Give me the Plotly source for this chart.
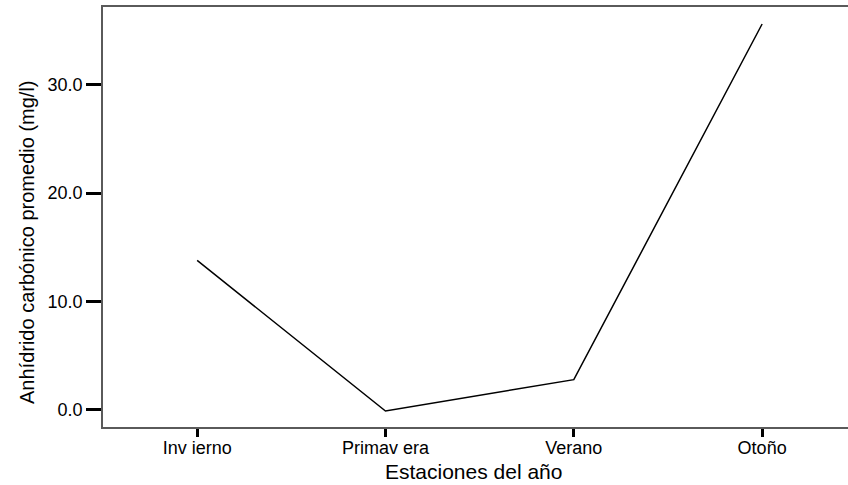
import plotly.graph_objects as go

# Estaciones y promedio de anhídrido carbónico (mg/l)
estaciones = ["Inv ierno", "Primav era", "Verano", "Otoño"]
co2_promedio = [13.8, -0.1, 2.8, 35.6]
y_ticks = [0, 10, 20, 30]

FONT = "Liberation Sans, Arial, sans-serif"
pos = list(range(len(estaciones)))

fig = go.Figure(
    go.Scatter(
        x=pos,
        y=co2_promedio,
        mode="lines",
        line=dict(color="black", width=1.5),
        hoverinfo="skip",
    )
)

fig.update_layout(
    width=848,
    height=485,
    margin=dict(l=103, r=0, t=7, b=58),
    paper_bgcolor="white",
    plot_bgcolor="white",
    showlegend=False,
    font=dict(family=FONT, size=18, color="black"),
)

fig.update_xaxes(
    range=[-0.5, 3.456],
    tickvals=pos,
    ticktext=estaciones,
    showgrid=False,
    zeroline=False,
    showline=True,
    mirror=True,
    linecolor="#5a5a5a",
    linewidth=1.5,
    ticks="outside",
    ticklen=8,
    tickwidth=3,
    tickcolor="black",
    ticklabelstandoff=-4,
    tickfont=dict(family=FONT, size=18, color="black"),
)

fig.update_yaxes(
    range=[-1.57, 37.17],
    tickvals=y_ticks,
    tickformat=".1f",
    showgrid=False,
    zeroline=False,
    showline=True,
    mirror=False,
    linecolor="#5a5a5a",
    linewidth=1.5,
    ticks="outside",
    ticklen=15,
    tickwidth=3,
    tickcolor="black",
    tickfont=dict(family=FONT, size=18, color="black"),
)

# Axis titles
fig.add_annotation(
    text="Estaciones del año",
    xref="paper", yref="paper",
    x=(473.5 - 103) / 745, y=-(471 - 427) / 420,
    xanchor="center", yanchor="middle",
    showarrow=False,
    font=dict(family=FONT, size=21, color="black"),
)
fig.add_annotation(
    text="Anhídrido carbónico promedio (mg/l)",
    xref="paper", yref="paper",
    x=-(103 - 27) / 745, y=(427 - 242) / 420,
    xanchor="center", yanchor="middle",
    textangle=-90,
    showarrow=False,
    font=dict(family=FONT, size=20, color="black"),
)

fig.write_html("out.html")
